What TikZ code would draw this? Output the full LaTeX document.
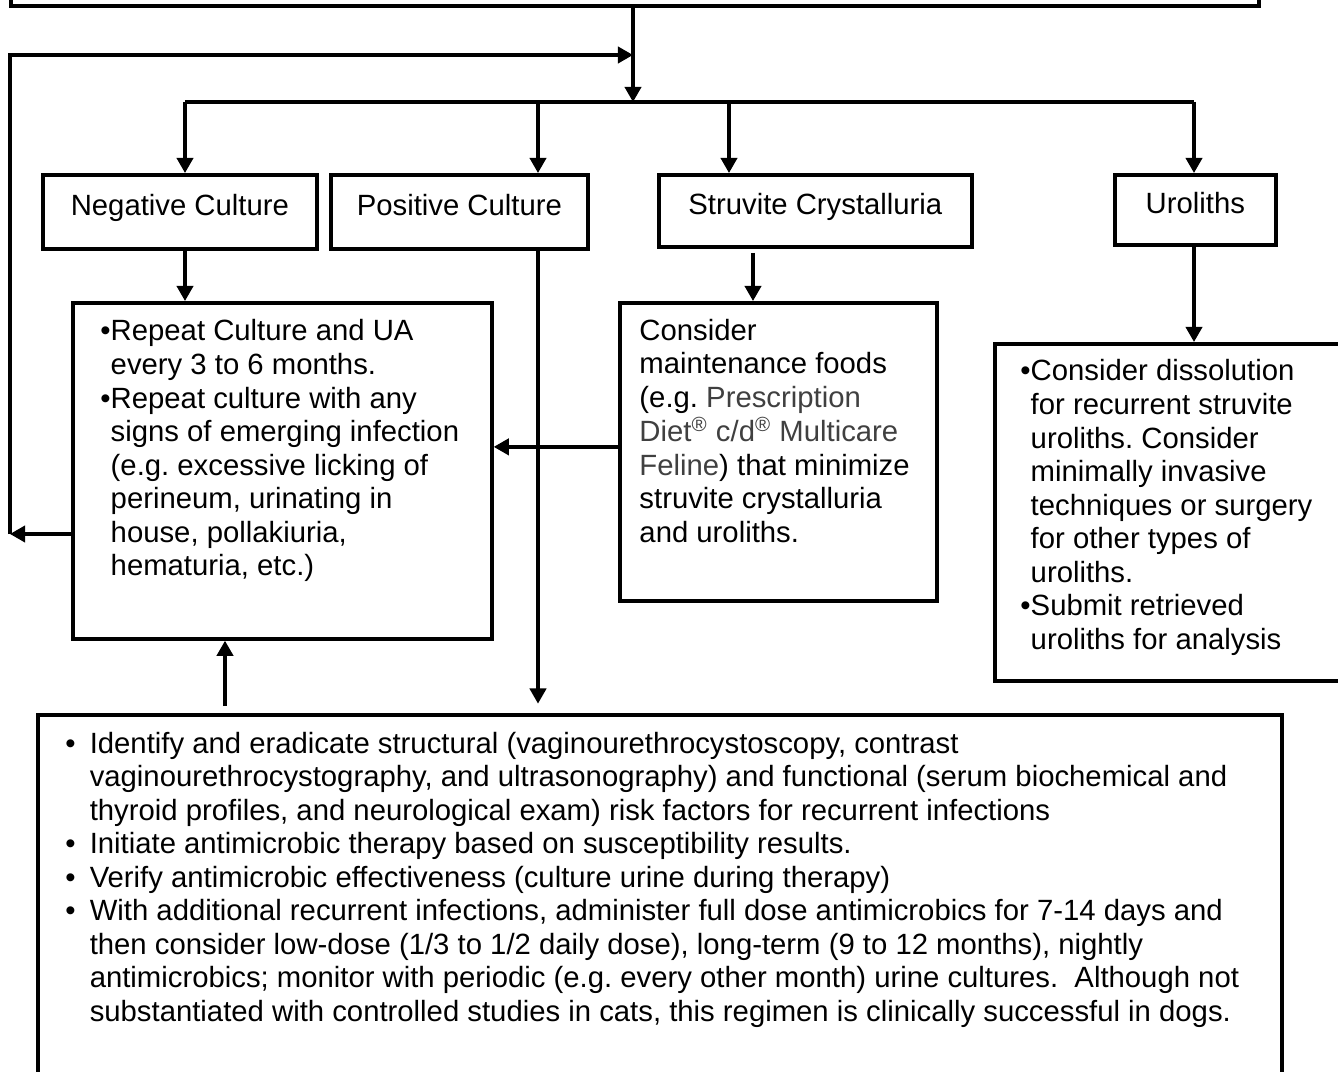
\documentclass[tikz,border=0pt]{standalone}
\usepackage{fontspec}
\setmainfont{Liberation Sans}
\usetikzlibrary{arrows.meta}
\definecolor{rxgray}{HTML}{404040}
\newcommand{\pxu}{0.015cm}
\newcommand{\bul}{\textbullet}
\frenchspacing

\begin{document}
\begin{tikzpicture}[
    x=0.015cm, y=-0.015cm,
    every node/.style={font=\fontsize{12.5pt}{14.3pt}\selectfont},
    box/.style={draw, line width=1.6pt, rectangle, inner sep=0pt, anchor=north west},
    head/.style={box, text height=9pt, text depth=6pt},
    txt/.style={anchor=base west, inner sep=0pt},
    wire/.style={line width=1.4pt},
    arr/.style={wire, -{Triangle[length=6.5pt, width=7pt]}},
  ]
  \useasboundingbox (0,0) rectangle (1338,1072);
  \clip (0,0) rectangle (1338,1072);

  % ===== top box (cut off by the page) =====
  \node[box, anchor=south west, minimum width=1248*\pxu, minimum height=150*\pxu] (top) at (9,8) {};

  % ===== result boxes =====
  \node[head, minimum width=274*\pxu, minimum height=74*\pxu] (neg) at (41,173) {Negative Culture};
  \node[head, minimum width=257*\pxu, minimum height=74*\pxu] (pos) at (329,173) {Positive Culture};
  \node[head, minimum width=313*\pxu, minimum height=72*\pxu] (str) at (657,173) {Struvite Crystalluria};
  \node[head, minimum width=161*\pxu, minimum height=70*\pxu] (url) at (1113,173) {Uroliths};

  % ===== action boxes =====
  \node[box, minimum width=419*\pxu, minimum height=336*\pxu] (negact) at (71,301) {};
  \node[box, minimum width=317*\pxu, minimum height=298*\pxu] (stract) at (618,301) {};
  \node[box, minimum width=360*\pxu, minimum height=337*\pxu] (urlact) at (993,342) {};
  \node[box, minimum width=1244*\pxu, minimum height=400*\pxu] (bot) at (36,713) {};

  \node[txt] (negtxt) at (100,341) {\begin{tabular}[t]{@{}l@{}l@{}}
    \bul & Repeat Culture and UA\\
         & every 3 to 6 months.\\
    \bul & Repeat culture with any\\
         & signs of emerging infection\\
         & (e.g. excessive licking of\\
         & perineum, urinating in\\
         & house, pollakiuria,\\
         & hematuria, etc.)
  \end{tabular}};

  \node[txt] (strtxt) at (639,340) {\begin{tabular}[t]{@{}l@{}}
    Consider\\
    maintenance foods\\
    (e.g. \textcolor{rxgray}{Prescription}\\
    \textcolor{rxgray}{Diet\textsuperscript{\textregistered} c/d\textsuperscript{\textregistered} Multicare}\\
    \textcolor{rxgray}{Feline}) that minimize\\
    struvite crystalluria\\
    and uroliths.
  \end{tabular}};

  \node[txt] (urltxt) at (1020,381) {\begin{tabular}[t]{@{}l@{}l@{}}
    \bul & Consider dissolution\\
         & for recurrent struvite\\
         & uroliths. Consider\\
         & minimally invasive\\
         & techniques or surgery\\
         & for other types of\\
         & uroliths.\\
    \bul & Submit retrieved\\
         & uroliths for analysis
  \end{tabular}};

  \node[txt] (bottxt) at (65,753) {\begin{tabular}[t]{@{}l@{\hspace{6pt}}l@{}}
    \bul & Identify and eradicate structural (vaginourethrocystoscopy, contrast\\
         & vaginourethrocystography, and ultrasonography) and functional (serum biochemical and\\
         & thyroid profiles, and neurological exam) risk factors for recurrent infections\\
    \bul & Initiate antimicrobic therapy based on susceptibility results.\\
    \bul & Verify antimicrobic effectiveness (culture urine during therapy)\\
    \bul & With additional recurrent infections, administer full dose antimicrobics for 7-14 days and\\
         & then consider low-dose (1/3 to 1/2 daily dose), long-term (9 to 12 months), nightly\\
         & antimicrobics; monitor with periodic (e.g. every other month) urine cultures.\ \ Although not\\
         & substantiated with controlled studies in cats, this regimen is clinically successful in dogs.
  \end{tabular}};

  % ===== trunk and branches =====
  \coordinate (br) at (633,102);
  \coordinate (brneg) at (185,102);
  \coordinate (brpos) at (538,102);
  \coordinate (brstr) at (729,102);
  \coordinate (brurl) at (1194,102);
  \draw[arr] (br |- top.south) -- (br);
  \draw[wire] (brneg) -- (brurl);
  \foreach \b/\n in {brneg/neg, brpos/pos, brstr/str, brurl/url}
    \draw[arr] (\b) -- (\b |- \n.north);

  % ===== down to the action boxes =====
  \draw[arr] (brneg |- neg.south) -- (brneg |- negact.north);
  \coordinate (strgap) at (753,253);
  \draw[arr] (strgap) -- (strgap |- stract.north);
  \coordinate (urlgap) at (1194,247);
  \draw[arr] (urlgap) -- (urlgap |- urlact.north);
  \draw[arr, shorten >=4pt] (brpos |- pos.south) -- (brpos |- bot.north);
  \draw[arr] ([yshift=5*\pxu]stract.west) -- ([yshift=5*\pxu]stract.west -| negact.east);

  % ===== loops back =====
  \coordinate (upgap) at (225,706);
  \draw[arr] (upgap) -- (upgap |- negact.south);
  \coordinate (fb) at (10,534);
  \coordinate (fbtop) at (10,55);
  \draw[arr] (negact.west |- fb) -- (fb);
  \draw[arr] (fb) -- (fbtop) -- (fbtop -| br);
\end{tikzpicture}
\end{document}
